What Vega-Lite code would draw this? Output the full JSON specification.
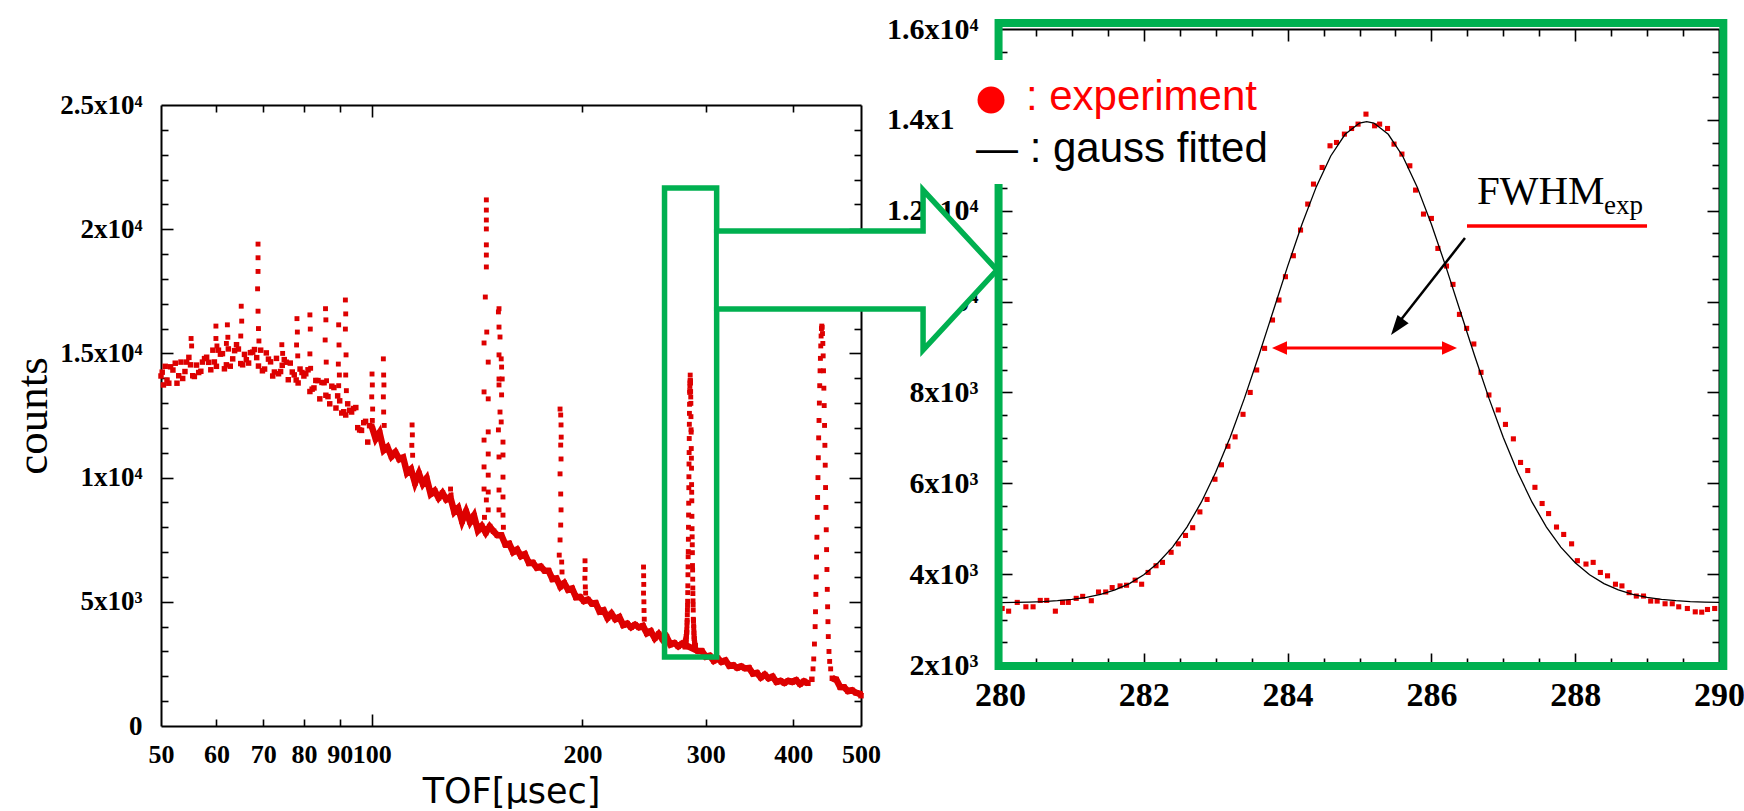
{
"$schema": "https://vega.github.io/schema/vega-lite/v6.json",
"padding": {"left": 10, "top": 14, "right": 0, "bottom": 0},
"config": {
  "view": {"stroke": null},
  "axis": {"grid": false, "domainColor": "black", "tickColor": "black", "labelColor": "black", "titleColor": "black", "labelFont": "Liberation Serif", "labelFontWeight": "bold", "tickWidth": 1.6, "domainWidth": 2}
},
"datasets": {
  "base": [
    {"t":50,"c":14090},{"t":50.7,"c":14480},{"t":51.3,"c":13800},{"t":52,"c":14330},{"t":52.7,"c":13800},{"t":53.4,"c":14650},{"t":54.1,"c":14270},{"t":54.8,"c":14840},{"t":55.5,"c":14100},{"t":56.2,"c":14530},{"t":57,"c":14280},{"t":57.7,"c":14790},{"t":58.5,"c":14640},{"t":59.3,"c":15130},{"t":60,"c":14480},{"t":60.8,"c":14970},{"t":61.6,"c":14380},{"t":62.4,"c":15180},{"t":63.3,"c":14780},{"t":64.1,"c":15350},{"t":65,"c":14590},{"t":65.8,"c":14960},{"t":66.7,"c":14610},{"t":67.6,"c":15050},{"t":68.5,"c":14830},{"t":69.4,"c":15130},{"t":70.3,"c":14370},{"t":71.2,"c":14770},{"t":72.2,"c":14090},{"t":73.1,"c":14800},{"t":74.1,"c":14270},{"t":75,"c":14750},{"t":76,"c":13940},{"t":77,"c":14250},{"t":78,"c":13930},{"t":79,"c":14370},{"t":80,"c":14090},{"t":81.1,"c":14340},{"t":82.2,"c":13560},{"t":83.2,"c":13910},{"t":84.3,"c":13170},{"t":85.5,"c":13820},{"t":86.6,"c":13260},{"t":87.7,"c":13680},{"t":88.9,"c":12800},{"t":90,"c":13090},{"t":91.2,"c":12650},{"t":92.4,"c":12970},{"t":93.6,"c":12640},{"t":94.9,"c":12820},{"t":96.1,"c":11920},{"t":97.4,"c":12210},{"t":98.7,"c":11430},{"t":100,"c":12070},
    {"t":50.4,"c":13730},{"t":51.6,"c":14460},{"t":53,"c":14100},{"t":54.4,"c":14650},{"t":55.8,"c":14070},{"t":57.3,"c":14650},{"t":58.9,"c":14340},{"t":60.4,"c":15130},{"t":62,"c":14540},{"t":63.7,"c":15110},{"t":65.4,"c":14540},{"t":67.1,"c":15030},{"t":68.9,"c":14490},{"t":70.7,"c":15020},{"t":72.6,"c":14250},{"t":74.5,"c":14520},{"t":76.5,"c":14610},{"t":78.5,"c":13810},{"t":80.5,"c":14180},{"t":82.7,"c":13610},{"t":84.9,"c":13830},{"t":87.1,"c":12970},{"t":89.4,"c":13290},{"t":91.8,"c":12520},{"t":94.2,"c":12780},{"t":96.7,"c":11900},{"t":99.3,"c":12090},
    {"t":50.2,"c":14245},{"t":51,"c":13925},{"t":52.4,"c":14605},{"t":53.7,"c":13990},{"t":55.1,"c":14540},{"t":56.6,"c":14230},{"t":58.1,"c":14845},{"t":59.6,"c":14655},{"t":61.2,"c":14990},{"t":62.8,"c":14485},{"t":64.5,"c":15175},{"t":66.2,"c":14745},{"t":68,"c":15155},{"t":69.8,"c":14300},{"t":71.7,"c":14660},{"t":73.6,"c":14180},{"t":75.5,"c":14645},{"t":77.5,"c":14135},{"t":79.5,"c":14230},{"t":81.6,"c":13465},{"t":83.8,"c":13905},{"t":86,"c":13315},{"t":88.3,"c":13625},{"t":90.6,"c":12600},{"t":93,"c":12710},{"t":95.5,"c":12010},{"t":98,"c":12265},
    {"t":101.3,"c":11560},{"t":102.6,"c":11810},{"t":104,"c":11100},{"t":105.3,"c":11230},{"t":106.7,"c":10850},{"t":108.1,"c":11020},{"t":109.5,"c":10740},{"t":110.9,"c":10810},{"t":112.3,"c":10190},{"t":113.8,"c":10340},{"t":115.3,"c":9780},{"t":116.8,"c":10170},{"t":118.3,"c":9750},{"t":119.8,"c":9970},{"t":121.4,"c":9340},{"t":123,"c":9470},{"t":124.6,"c":9180},{"t":126.2,"c":9380},{"t":127.8,"c":9120},{"t":129.5,"c":9220},{"t":131.2,"c":8620},{"t":132.9,"c":8780},{"t":134.6,"c":8240},{"t":136.4,"c":8640},{"t":138.2,"c":8210},{"t":140,"c":8470},{"t":141.8,"c":7870},{"t":143.6,"c":8050},{"t":145.5,"c":7780},{"t":147.4,"c":8030},{"t":149.3,"c":7840},
    {"t":151.2,"c":7680},{"t":153.2,"c":7680},{"t":155.2,"c":7310},{"t":157.2,"c":7340},{"t":159.2,"c":7000},{"t":161.3,"c":7105},{"t":163.4,"c":6835},{"t":165.5,"c":6915},{"t":167.7,"c":6560},{"t":169.9,"c":6575},{"t":172.1,"c":6375},{"t":174.3,"c":6420},{"t":176.6,"c":6250},{"t":178.9,"c":6250},{"t":181.2,"c":5910},{"t":183.6,"c":5940},{"t":186,"c":5610},{"t":188.4,"c":5755},{"t":190.8,"c":5485},{"t":193.3,"c":5535},{"t":195.8,"c":5180},{"t":198.4,"c":5195},{"t":201,"c":5025},{"t":203.6,"c":5090},{"t":206.2,"c":4930},{"t":208.9,"c":4950},{"t":211.6,"c":4610},{"t":214.4,"c":4660},{"t":217.2,"c":4350},{"t":220,"c":4525},{"t":222.9,"c":4295},{"t":225.8,"c":4385},{"t":228.7,"c":4060},{"t":231.7,"c":4125},{"t":234.7,"c":3975},{"t":237.8,"c":4080},{"t":240.9,"c":3970},{"t":244,"c":4030},{"t":247.2,"c":3730},{"t":250.4,"c":3820},{"t":253.7,"c":3530},{"t":257,"c":3705},{"t":260.3,"c":3485},{"t":263.7,"c":3595},{"t":267.1,"c":3280},{"t":270.6,"c":3345},{"t":274.1,"c":3205},{"t":277.7,"c":3320},
    {"t":292.4,"c":3020},{"t":296.2,"c":3020},{"t":300.1,"c":2790},{"t":304,"c":2830},{"t":308,"c":2620},{"t":312,"c":2730},{"t":316,"c":2580},{"t":320.1,"c":2640},{"t":324.3,"c":2420},{"t":328.5,"c":2450},{"t":332.8,"c":2340},{"t":337.1,"c":2400},{"t":341.5,"c":2320},{"t":345.9,"c":2340},{"t":350.4,"c":2110},{"t":355,"c":2140},{"t":359.6,"c":1950},{"t":364.3,"c":2070},{"t":369,"c":1920},{"t":373.8,"c":1990},{"t":378.7,"c":1770},{"t":383.6,"c":1820},{"t":388.6,"c":1730},{"t":393.7,"c":1820},{"t":398.8,"c":1770},{"t":404,"c":1845},{"t":409.2,"c":1690},{"t":414.5,"c":1800},{"t":419.9,"c":1720},{"t":425.4,"c":1880},
    {"t":455,"c":1920},{"t":460.9,"c":1870},{"t":466.9,"c":1570},{"t":473,"c":1560},{"t":479.1,"c":1400},{"t":485.4,"c":1440},{"t":491.7,"c":1340},{"t":498.1,"c":1300},{"t":500,"c":1220}
  ],
  "peaks": [
    {"t":55.2,"c":15600},{"t":55.3,"c":15300},
    {"t":59.9,"c":16100},{"t":59.9,"c":15600},{"t":60.1,"c":15300},
    {"t":62.2,"c":16150},{"t":62.3,"c":15650},{"t":62,"c":15400},
    {"t":65.1,"c":16900},{"t":65.2,"c":16300},{"t":65,"c":15700},
    {"t":68.8,"c":19400},{"t":68.8,"c":18850},{"t":68.8,"c":18300},{"t":68.7,"c":17600},{"t":68.8,"c":16700},{"t":68.9,"c":16000},{"t":69,"c":15500},
    {"t":74.4,"c":15350},{"t":74.6,"c":15000},
    {"t":78.2,"c":16400},{"t":78.3,"c":15860},{"t":78.1,"c":15340},{"t":78.4,"c":14900},
    {"t":81.6,"c":16550},{"t":81.7,"c":15980},{"t":81.6,"c":14980},{"t":81.8,"c":14400},
    {"t":85.9,"c":16800},{"t":86,"c":16350},{"t":85.8,"c":15540},{"t":86.1,"c":14650},{"t":86.2,"c":13900},
    {"t":89.7,"c":16150},{"t":89.8,"c":15340},{"t":89.6,"c":14570},{"t":89.9,"c":14130},{"t":89.7,"c":13700},
    {"t":91.7,"c":17150},{"t":91.8,"c":16590},{"t":91.7,"c":15980},{"t":91.9,"c":14940},{"t":91.8,"c":14130},{"t":92,"c":13500},
    {"t":100.1,"c":14170},{"t":100.2,"c":13730},{"t":100,"c":13250},{"t":100.3,"c":12760},{"t":100.2,"c":12300},
    {"t":103.9,"c":14780},{"t":104,"c":14130},{"t":104.1,"c":13730},{"t":103.9,"c":13250},{"t":104,"c":12640},{"t":104.2,"c":12100},
    {"t":114.2,"c":12120},{"t":114.3,"c":11720},{"t":114.1,"c":11300},{"t":114.4,"c":10900},
    {"t":129.6,"c":9540},{"t":129.8,"c":9300},
    {"t":145.8,"c":21180},{"t":145.8,"c":20770},{"t":145.8,"c":20370},{"t":145.8,"c":20010},{"t":145.8,"c":19370},{"t":145.8,"c":18960},{"t":145.8,"c":18480},{"t":145.3,"c":17270},{"t":146,"c":15860},{"t":144.7,"c":15420},{"t":146.7,"c":14650},{"t":144.7,"c":13450},{"t":146.7,"c":13170},{"t":146.7,"c":11840},{"t":144.7,"c":11510},{"t":146.7,"c":10950},{"t":144.7,"c":10430},{"t":146.7,"c":10100},{"t":144.7,"c":9540},{"t":146.7,"c":9420},{"t":145.8,"c":9100},{"t":146.7,"c":8700},{"t":144.9,"c":8400},
    {"t":152,"c":16800},{"t":151.7,"c":16670},{"t":152,"c":16060},{"t":152.5,"c":15660},{"t":152,"c":14940},{"t":153.1,"c":14780},{"t":153.3,"c":14450},{"t":152,"c":13970},{"t":153.6,"c":13970},{"t":152,"c":13730},{"t":153.3,"c":13330},{"t":152.5,"c":12640},{"t":153.1,"c":12240},{"t":151.7,"c":11920},{"t":154,"c":11430},{"t":152,"c":10830},{"t":154,"c":10910},{"t":154,"c":10020},{"t":152,"c":9500},{"t":154,"c":9220},{"t":152,"c":8700},{"t":154,"c":8490},{"t":154.2,"c":8000},
    {"t":185.8,"c":12760},{"t":186.2,"c":12520},{"t":186.4,"c":12120},{"t":186.5,"c":11630},{"t":186.2,"c":11310},{"t":186.4,"c":10750},{"t":185.8,"c":10150},{"t":186.2,"c":9340},{"t":186.4,"c":8700},{"t":186.2,"c":8090},{"t":185.8,"c":7490},{"t":185.3,"c":6880},{"t":186.8,"c":6600},{"t":187,"c":6200},
    {"t":201.7,"c":6650},{"t":201.8,"c":6300},{"t":201.6,"c":5950},{"t":201.9,"c":5600},{"t":202.1,"c":5350},
    {"t":244.5,"c":6400},{"t":244.6,"c":6050},{"t":244.7,"c":5700},{"t":244.5,"c":5350},{"t":244.8,"c":5000},{"t":244.9,"c":4650},{"t":245.1,"c":4300},
    {"t":427,"c":2300},{"t":428,"c":2700},{"t":429,"c":3300},{"t":430,"c":4000},{"t":430.5,"c":4600},{"t":431,"c":5300},{"t":431.5,"c":6000},{"t":432,"c":6800},{"t":432.5,"c":7600},{"t":433,"c":8400},{"t":433.5,"c":9200},{"t":434,"c":10000},{"t":434.5,"c":10800},{"t":435,"c":11600},{"t":435.5,"c":12300},{"t":436,"c":13000},{"t":436.5,"c":13700},{"t":437,"c":14300},{"t":437.5,"c":14800},{"t":438,"c":15300},{"t":438.5,"c":15700},{"t":439,"c":16000},{"t":439.5,"c":16100},{"t":440,"c":16050},{"t":440.5,"c":15800},{"t":441,"c":15400},{"t":441.5,"c":14900},{"t":442,"c":14300},{"t":442.5,"c":13600},{"t":443,"c":12900},{"t":443.5,"c":12100},{"t":444,"c":11300},{"t":444.5,"c":10500},{"t":445,"c":9600},{"t":445.5,"c":8800},{"t":446,"c":7900},{"t":446.5,"c":7100},{"t":447,"c":6300},{"t":447.5,"c":5500},{"t":448,"c":4800},{"t":448.5,"c":4200},{"t":449,"c":3600},{"t":450,"c":3000},{"t":451,"c":2600},{"t":452.5,"c":2300}
  ],
  "exp": [
    {"t":280.03,"c":3244},{"t":280.12,"c":3185},{"t":280.24,"c":3378},{"t":280.36,"c":3281},{"t":280.46,"c":3281},{"t":280.56,"c":3422},{"t":280.65,"c":3422},{"t":280.77,"c":3185},{"t":280.87,"c":3378},{"t":280.95,"c":3378},{"t":281.06,"c":3467},{"t":281.15,"c":3511},{"t":281.27,"c":3415},{"t":281.37,"c":3607},{"t":281.47,"c":3607},{"t":281.56,"c":3704},{"t":281.67,"c":3741},{"t":281.76,"c":3756},{"t":281.88,"c":3867},{"t":281.97,"c":3778},{"t":282.06,"c":4037},{"t":282.17,"c":4185},{"t":282.26,"c":4259},{"t":282.38,"c":4481},{"t":282.48,"c":4667},{"t":282.58,"c":4852},{"t":282.68,"c":5022},{"t":282.78,"c":5370},{"t":282.88,"c":5644},{"t":282.99,"c":6089},{"t":283.08,"c":6407},{"t":283.17,"c":6815},{"t":283.27,"c":7022},{"t":283.38,"c":7518},{"t":283.48,"c":8000},{"t":283.57,"c":8494},{"t":283.68,"c":8970},{"t":283.79,"c":9594},{"t":283.88,"c":10034},{"t":283.97,"c":10547},{"t":284.08,"c":11009},{"t":284.18,"c":11574},{"t":284.28,"c":12146},{"t":284.36,"c":12586},{"t":284.48,"c":12952},{"t":284.59,"c":13429},{"t":284.68,"c":13502},{"t":284.79,"c":13686},{"t":284.89,"c":13810},{"t":284.98,"c":13906},{"t":285.09,"c":14126},{"t":285.21,"c":13869},{"t":285.28,"c":13906},{"t":285.39,"c":13810},{"t":285.48,"c":13466},{"t":285.59,"c":13246},{"t":285.7,"c":12989},{"t":285.78,"c":12454},{"t":285.89,"c":11926},{"t":286,"c":11830},{"t":286.09,"c":11170},{"t":286.21,"c":10782},{"t":286.3,"c":10378},{"t":286.39,"c":9718},{"t":286.49,"c":9410},{"t":286.59,"c":9066},{"t":286.69,"c":8442},{"t":286.8,"c":7944},{"t":286.93,"c":7615},{"t":287.03,"c":7296},{"t":287.14,"c":6978},{"t":287.24,"c":6459},{"t":287.34,"c":6281},{"t":287.44,"c":5911},{"t":287.54,"c":5555},{"t":287.63,"c":5333},{"t":287.74,"c":5037},{"t":287.84,"c":4874},{"t":287.95,"c":4667},{"t":288.03,"c":4296},{"t":288.15,"c":4222},{"t":288.25,"c":4259},{"t":288.35,"c":4037},{"t":288.45,"c":3963},{"t":288.56,"c":3778},{"t":288.65,"c":3741},{"t":288.75,"c":3593},{"t":288.85,"c":3518},{"t":288.95,"c":3518},{"t":289.05,"c":3407},{"t":289.14,"c":3407},{"t":289.25,"c":3348},{"t":289.35,"c":3348},{"t":289.44,"c":3281},{"t":289.56,"c":3244},{"t":289.67,"c":3170},{"t":289.76,"c":3163},{"t":289.84,"c":3222},{"t":289.94,"c":3244}
  ],
  "fit": [
    {"t":280,"c":3375},{"t":280.2,"c":3379},{"t":280.4,"c":3385},{"t":280.6,"c":3396},{"t":280.8,"c":3415},{"t":281,"c":3443},{"t":281.2,"c":3488},{"t":281.4,"c":3554},{"t":281.6,"c":3652},{"t":281.8,"c":3792},{"t":282,"c":3987},{"t":282.2,"c":4250},{"t":282.4,"c":4595},{"t":282.6,"c":5037},{"t":282.8,"c":5584},{"t":283,"c":6242},{"t":283.2,"c":7010},{"t":283.4,"c":7874},{"t":283.6,"c":8812},{"t":283.8,"c":9793},{"t":284,"c":10774},{"t":284.2,"c":11703},{"t":284.4,"c":12530},{"t":284.6,"c":13205},{"t":284.8,"c":13682},{"t":285,"c":13929},{"t":285.1,"c":13960},{"t":285.2,"c":13929},{"t":285.4,"c":13682},{"t":285.6,"c":13205},{"t":285.8,"c":12530},{"t":286,"c":11703},{"t":286.2,"c":10774},{"t":286.4,"c":9793},{"t":286.6,"c":8812},{"t":286.8,"c":7874},{"t":287,"c":7010},{"t":287.2,"c":6242},{"t":287.4,"c":5584},{"t":287.6,"c":5037},{"t":287.8,"c":4595},{"t":288,"c":4250},{"t":288.2,"c":3987},{"t":288.4,"c":3792},{"t":288.6,"c":3652},{"t":288.8,"c":3554},{"t":289,"c":3488},{"t":289.2,"c":3443},{"t":289.4,"c":3415},{"t":289.6,"c":3396},{"t":289.8,"c":3385},{"t":290,"c":3379}
  ],
  "arrow": [
    {"o":1,"x":276.06,"y":11552},{"o":2,"x":278.93,"y":11552},{"o":3,"x":278.93,"y":12455},{"o":4,"x":279.958,"y":10694},{"o":5,"x":278.93,"y":8933},{"o":6,"x":278.93,"y":9836},{"o":7,"x":276.06,"y":9836}
  ],
  "head": [
    {"x":278.93,"y":12455,"y2":8933},{"x":279.958,"y":10694,"y2":10694}
  ],
  "axL": [{"t":100,"c":10000}],
  "axR": [{"t":285,"c":9000}]
},
"hconcat": [
  {
    "vconcat": [
      {"width": 700, "height": 76, "data": {"values": [{}]}, "mark": {"type": "point", "opacity": 0}},
      {
        "width": 700, "height": 621,
        "resolve": {"axis": {"x": "independent", "y": "independent"}},
        "layer": [
          {
            "data": {"name": "base"},
            "transform": [{"filter": "datum.t >= 100 && datum.t < 422"}],
            "mark": {"type": "line", "color": "#DD0000", "strokeWidth": 6.5},
            "encoding": {
              "x": {"field": "t", "type": "quantitative", "scale": {"type": "log", "domain": [50, 500], "nice": false},
                    "axis": {"orient": "bottom", "values": [50,60,70,80,90,100,200,300,400,500], "format": "d", "ticks": false, "labelPadding": 15, "labelFontSize": 26, "labelOverlap": false, "labelFlush": false, "title": "TOF[μsec]", "titleFont": "DejaVu Sans", "titleFontSize": 35, "titleFontWeight": "normal", "titlePadding": 7}},
              "y": {"field": "c", "type": "quantitative", "scale": {"domain": [0, 25000], "nice": false, "zero": false},
                    "axis": {"orient": "left", "values": [0,5000,10000,15000,20000,25000], "ticks": false, "labelPadding": 19, "labelFontSize": 27, "labelExpr": "datum.value == 0 ? '0' : datum.value < 10000 ? (datum.value / 1000) + 'x10³' : (datum.value / 10000) + 'x10⁴'", "title": "counts", "titleFont": "Liberation Serif", "titleFontSize": 45, "titleFontWeight": "normal", "titlePadding": 4}}
            }
          },
          {
            "data": {"name": "base"},
            "transform": [{"filter": "datum.t > 454"}],
            "mark": {"type": "line", "color": "#DD0000", "strokeWidth": 6.5},
            "encoding": {
              "x": {"field": "t", "type": "quantitative", "scale": {"type": "log", "domain": [50, 500], "nice": false}, "axis": null},
              "y": {"field": "c", "type": "quantitative", "scale": {"domain": [0, 25000], "nice": false, "zero": false}, "axis": null}
            }
          },
          {
            "data": {"name": "base"},
            "mark": {"type": "square", "size": 30, "color": "#DD0000", "opacity": 1},
            "encoding": {
              "x": {"field": "t", "type": "quantitative", "scale": {"type": "log", "domain": [50, 500], "nice": false}, "axis": null},
              "y": {"field": "c", "type": "quantitative", "scale": {"domain": [0, 25000], "nice": false, "zero": false}, "axis": null}
            }
          },
          {
            "data": {"name": "peaks"},
            "mark": {"type": "square", "size": 24, "color": "#DD0000", "opacity": 1},
            "encoding": {
              "x": {"field": "t", "type": "quantitative", "scale": {"type": "log", "domain": [50, 500], "nice": false}, "axis": null},
              "y": {"field": "c", "type": "quantitative", "scale": {"domain": [0, 25000], "nice": false, "zero": false}, "axis": null}
            }
          },
          {
            "data": {"name": "exp"},
            "mark": {"type": "square", "size": 24, "color": "#DD0000", "opacity": 1},
            "encoding": {
              "x": {"field": "t", "type": "quantitative", "scale": {"type": "log", "domain": [50, 500], "nice": false}, "axis": null},
              "y": {"field": "c", "type": "quantitative", "scale": {"domain": [0, 25000], "nice": false, "zero": false}, "axis": null}
            }
          },
          {
            "data": {"name": "axL"},
            "mark": {"type": "point", "opacity": 0},
            "encoding": {
              "x": {"field": "t", "type": "quantitative", "scale": {"type": "log", "domain": [50, 500], "nice": false},
                    "axis": {"orient": "bottom", "values": [60,70,80,90,200,300,400], "labels": false, "domain": false, "tickSize": -7, "title": null}},
              "y": {"field": "c", "type": "quantitative", "scale": {"domain": [0, 25000], "nice": false, "zero": false},
                    "axis": {"orient": "left", "values": [5000,10000,15000,20000], "labels": false, "domain": false, "tickSize": -12, "title": null}}
            }
          },
          {
            "data": {"name": "axL"},
            "mark": {"type": "point", "opacity": 0},
            "encoding": {
              "x": {"field": "t", "type": "quantitative", "scale": {"type": "log", "domain": [50, 500], "nice": false},
                    "axis": {"orient": "top", "values": [60,70,80,90,200,300,400], "labels": false, "domain": true, "tickSize": -7, "title": null}},
              "y": {"field": "c", "type": "quantitative", "scale": {"domain": [0, 25000], "nice": false, "zero": false},
                    "axis": {"orient": "right", "values": [5000,10000,15000,20000], "labels": false, "domain": true, "tickSize": -12, "title": null}}
            }
          },
          {
            "data": {"name": "axL"},
            "mark": {"type": "point", "opacity": 0},
            "encoding": {
              "x": {"field": "t", "type": "quantitative", "scale": {"type": "log", "domain": [50, 500], "nice": false},
                    "axis": {"orient": "top", "values": [100], "labels": false, "domain": false, "tickSize": -12, "title": null}},
              "y": {"field": "c", "type": "quantitative", "scale": {"domain": [0, 25000], "nice": false, "zero": false},
                    "axis": {"orient": "left", "values": [1000,2000,3000,4000,6000,7000,8000,9000,11000,12000,13000,14000,16000,17000,18000,19000,21000,22000,23000,24000], "labels": false, "domain": false, "tickSize": -7, "title": null}}
            }
          },
          {
            "data": {"name": "axL"},
            "mark": {"type": "point", "opacity": 0},
            "encoding": {
              "x": {"field": "t", "type": "quantitative", "scale": {"type": "log", "domain": [50, 500], "nice": false},
                    "axis": {"orient": "bottom", "values": [100], "labels": false, "domain": false, "tickSize": -12, "title": null}},
              "y": {"field": "c", "type": "quantitative", "scale": {"domain": [0, 25000], "nice": false, "zero": false},
                    "axis": {"orient": "right", "values": [1000,2000,3000,4000,6000,7000,8000,9000,11000,12000,13000,14000,16000,17000,18000,19000,21000,22000,23000,24000], "labels": false, "domain": false, "tickSize": -7, "title": null}}
            }
          },
          {
            "data": {"values": [{}]},
            "mark": {"type": "rect", "filled": false, "color": "#00B050", "strokeWidth": 5.5},
            "encoding": {
              "x": {"datum": 262, "type": "quantitative", "scale": {"type": "log", "domain": [50, 500], "nice": false}, "axis": null},
              "x2": {"datum": 311},
              "y": {"datum": 21660, "type": "quantitative", "scale": {"domain": [0, 25000], "nice": false, "zero": false}, "axis": null},
              "y2": {"datum": 2778}
            }
          }
        ]
      }
    ],
    "spacing": 0,
    "bounds": "flush"
  },
  {
    "width": 719, "height": 636,
    "resolve": {"axis": {"x": "independent", "y": "independent"}},
    "layer": [
      {
        "data": {"name": "exp"},
        "mark": {"type": "square", "size": 26, "color": "#E60000", "opacity": 1},
        "encoding": {
          "x": {"field": "t", "type": "quantitative", "scale": {"domain": [280, 290], "nice": false, "zero": false},
                "axis": {"orient": "bottom", "values": [280,282,284,286,288,290], "ticks": false, "labelPadding": 13, "labelFontSize": 34, "labelFlush": false, "labelOverlap": false, "title": null}},
          "y": {"field": "c", "type": "quantitative", "scale": {"domain": [2000, 16000], "nice": false, "zero": false},
                "axis": {"orient": "left", "values": [2000,4000,6000,8000,10000,12000,14000,16000], "ticks": false, "labelPadding": 22, "labelFontSize": 30, "labelExpr": "datum.value == 0 ? '0' : datum.value < 10000 ? (datum.value / 1000) + 'x10³' : (datum.value / 10000) + 'x10⁴'", "title": null}}
        }
      },
      {
        "data": {"name": "fit"},
        "mark": {"type": "line", "color": "black", "strokeWidth": 1.3},
        "encoding": {
          "x": {"field": "t", "type": "quantitative", "scale": {"domain": [280, 290], "nice": false, "zero": false}, "axis": null},
          "y": {"field": "c", "type": "quantitative", "scale": {"domain": [2000, 16000], "nice": false, "zero": false}, "axis": null}
        }
      },
      {
        "data": {"name": "axR"},
        "mark": {"type": "point", "opacity": 0},
        "encoding": {
          "x": {"field": "t", "type": "quantitative", "scale": {"domain": [280, 290], "nice": false, "zero": false},
                "axis": {"orient": "bottom", "values": [282,284,286,288], "labels": false, "domain": false, "tickSize": -12, "title": null}},
          "y": {"field": "c", "type": "quantitative", "scale": {"domain": [2000, 16000], "nice": false, "zero": false},
                "axis": {"orient": "left", "values": [4000,6000,8000,10000,12000,14000], "labels": false, "domain": false, "tickSize": -12, "title": null}}
        }
      },
      {
        "data": {"name": "axR"},
        "mark": {"type": "point", "opacity": 0},
        "encoding": {
          "x": {"field": "t", "type": "quantitative", "scale": {"domain": [280, 290], "nice": false, "zero": false},
                "axis": {"orient": "top", "values": [282,284,286,288], "labels": false, "domain": true, "tickSize": -12, "title": null}},
          "y": {"field": "c", "type": "quantitative", "scale": {"domain": [2000, 16000], "nice": false, "zero": false},
                "axis": {"orient": "right", "values": [4000,6000,8000,10000,12000,14000], "labels": false, "domain": true, "tickSize": -12, "title": null}}
        }
      },
      {
        "data": {"name": "axR"},
        "mark": {"type": "point", "opacity": 0},
        "encoding": {
          "x": {"field": "t", "type": "quantitative", "scale": {"domain": [280, 290], "nice": false, "zero": false},
                "axis": {"orient": "top", "values": [280.5,281,281.5,282.5,283,283.5,284.5,285,285.5,286.5,287,287.5,288.5,289,289.5], "labels": false, "domain": false, "tickSize": -7, "title": null}},
          "y": {"field": "c", "type": "quantitative", "scale": {"domain": [2000, 16000], "nice": false, "zero": false},
                "axis": {"orient": "left", "values": [2500,3000,3500,4500,5000,5500,6500,7000,7500,8500,9000,9500,10500,11000,11500,12500,13000,13500,14500,15000,15500], "labels": false, "domain": false, "tickSize": -7, "title": null}}
        }
      },
      {
        "data": {"name": "axR"},
        "mark": {"type": "point", "opacity": 0},
        "encoding": {
          "x": {"field": "t", "type": "quantitative", "scale": {"domain": [280, 290], "nice": false, "zero": false},
                "axis": {"orient": "bottom", "values": [280.5,281,281.5,282.5,283,283.5,284.5,285,285.5,286.5,287,287.5,288.5,289,289.5], "labels": false, "domain": false, "tickSize": -7, "title": null}},
          "y": {"field": "c", "type": "quantitative", "scale": {"domain": [2000, 16000], "nice": false, "zero": false},
                "axis": {"orient": "right", "values": [2500,3000,3500,4500,5000,5500,6500,7000,7500,8500,9000,9500,10500,11000,11500,12500,13000,13500,14500,15000,15500], "labels": false, "domain": false, "tickSize": -7, "title": null}}
        }
      },
      {
        "data": {"values": [{}]},
        "mark": {"type": "rect", "filled": false, "color": "#00B050", "strokeWidth": 8},
        "encoding": {
          "x": {"datum": 279.98, "type": "quantitative", "scale": {"domain": [280, 290], "nice": false, "zero": false}, "axis": null},
          "x2": {"datum": 290.06},
          "y": {"datum": 1980, "type": "quantitative", "scale": {"domain": [2000, 16000], "nice": false, "zero": false}, "axis": null},
          "y2": {"datum": 16130}
        }
      },
      {
        "data": {"values": [{}]},
        "mark": {"type": "rect", "color": "white", "opacity": 1},
        "encoding": {
          "x": {"datum": 279.36, "type": "quantitative", "scale": {"domain": [280, 290], "nice": false, "zero": false}, "axis": null},
          "x2": {"datum": 284.02},
          "y": {"datum": 12587, "type": "quantitative", "scale": {"domain": [2000, 16000], "nice": false, "zero": false}, "axis": null},
          "y2": {"datum": 15316}
        }
      },
      {
        "data": {"values": [{}]},
        "mark": {"type": "rect", "color": "white", "opacity": 1},
        "encoding": {
          "x": {"datum": 276.09, "type": "quantitative", "scale": {"domain": [280, 290], "nice": false, "zero": false}, "axis": null},
          "x2": {"datum": 278.93},
          "y": {"datum": 9836, "type": "quantitative", "scale": {"domain": [2000, 16000], "nice": false, "zero": false}, "axis": null},
          "y2": {"datum": 11552}
        }
      },
      {
        "data": {"name": "head"},
        "mark": {"type": "area", "color": "white", "opacity": 1},
        "encoding": {
          "x": {"field": "x", "type": "quantitative", "scale": {"domain": [280, 290], "nice": false, "zero": false}, "axis": null},
          "y": {"field": "y", "type": "quantitative", "scale": {"domain": [2000, 16000], "nice": false, "zero": false}, "axis": null},
          "y2": {"field": "y2"}
        }
      },
      {
        "data": {"name": "arrow"},
        "mark": {"type": "line", "color": "#00B050", "strokeWidth": 5.5, "strokeJoin": "miter", "strokeCap": "square"},
        "encoding": {
          "x": {"field": "x", "type": "quantitative", "scale": {"domain": [280, 290], "nice": false, "zero": false}, "axis": null},
          "y": {"field": "y", "type": "quantitative", "scale": {"domain": [2000, 16000], "nice": false, "zero": false}, "axis": null},
          "order": {"field": "o", "type": "quantitative"}
        }
      },
      {
        "data": {"values": [{}]},
        "mark": {"type": "point", "shape": "circle", "filled": true, "color": "#FF0000", "size": 729, "opacity": 1},
        "encoding": {
          "x": {"datum": 279.875, "type": "quantitative", "scale": {"domain": [280, 290], "nice": false, "zero": false}, "axis": null},
          "y": {"datum": 14436, "type": "quantitative", "scale": {"domain": [2000, 16000], "nice": false, "zero": false}, "axis": null}
        }
      },
      {
        "data": {"values": [{}]},
        "mark": {"type": "text", "text": ": experiment", "align": "left", "baseline": "alphabetic", "font": "Liberation Sans", "fontSize": 42, "color": "#FF0000"},
        "encoding": {
          "x": {"datum": 280.36, "type": "quantitative", "scale": {"domain": [280, 290], "nice": false, "zero": false}, "axis": null},
          "y": {"datum": 14216, "type": "quantitative", "scale": {"domain": [2000, 16000], "nice": false, "zero": false}, "axis": null}
        }
      },
      {
        "data": {"values": [{}]},
        "mark": {"type": "text", "text": "— : gauss fitted", "align": "left", "baseline": "alphabetic", "font": "Liberation Sans", "fontSize": 42, "color": "black"},
        "encoding": {
          "x": {"datum": 279.666, "type": "quantitative", "scale": {"domain": [280, 290], "nice": false, "zero": false}, "axis": null},
          "y": {"datum": 13071, "type": "quantitative", "scale": {"domain": [2000, 16000], "nice": false, "zero": false}, "axis": null}
        }
      },
      {
        "data": {"values": [{}]},
        "mark": {"type": "text", "text": "FWHM", "align": "left", "baseline": "alphabetic", "font": "Liberation Serif", "fontSize": 41, "color": "black"},
        "encoding": {
          "x": {"datum": 286.634, "type": "quantitative", "scale": {"domain": [280, 290], "nice": false, "zero": false}, "axis": null},
          "y": {"datum": 12147, "type": "quantitative", "scale": {"domain": [2000, 16000], "nice": false, "zero": false}, "axis": null}
        }
      },
      {
        "data": {"values": [{}]},
        "mark": {"type": "text", "text": "exp", "align": "left", "baseline": "alphabetic", "font": "Liberation Serif", "fontSize": 27, "color": "black"},
        "encoding": {
          "x": {"datum": 288.4, "type": "quantitative", "scale": {"domain": [280, 290], "nice": false, "zero": false}, "axis": null},
          "y": {"datum": 11927, "type": "quantitative", "scale": {"domain": [2000, 16000], "nice": false, "zero": false}, "axis": null}
        }
      },
      {
        "data": {"values": [{}]},
        "mark": {"type": "rule", "color": "#FF0000", "strokeWidth": 3.5},
        "encoding": {
          "x": {"datum": 286.495, "type": "quantitative", "scale": {"domain": [280, 290], "nice": false, "zero": false}, "axis": null},
          "x2": {"datum": 288.999},
          "y": {"datum": 11662, "type": "quantitative", "scale": {"domain": [2000, 16000], "nice": false, "zero": false}, "axis": null}
        }
      },
      {
        "data": {"values": [{}]},
        "mark": {"type": "rule", "color": "black", "strokeWidth": 2.5},
        "encoding": {
          "x": {"datum": 286.467, "type": "quantitative", "scale": {"domain": [280, 290], "nice": false, "zero": false}, "axis": null},
          "x2": {"datum": 285.508},
          "y": {"datum": 11398, "type": "quantitative", "scale": {"domain": [2000, 16000], "nice": false, "zero": false}, "axis": null},
          "y2": {"datum": 9461}
        }
      },
      {
        "data": {"values": [{}]},
        "mark": {"type": "point", "shape": "M0,0L-0.35,1L0.35,1Z", "filled": true, "color": "black", "size": 1600, "angle": 217.2, "opacity": 1},
        "encoding": {
          "x": {"datum": 285.438, "type": "quantitative", "scale": {"domain": [280, 290], "nice": false, "zero": false}, "axis": null},
          "y": {"datum": 9263, "type": "quantitative", "scale": {"domain": [2000, 16000], "nice": false, "zero": false}, "axis": null}
        }
      },
      {
        "data": {"values": [{}]},
        "mark": {"type": "rule", "color": "#FF0000", "strokeWidth": 3},
        "encoding": {
          "x": {"datum": 283.85, "type": "quantitative", "scale": {"domain": [280, 290], "nice": false, "zero": false}, "axis": null},
          "x2": {"datum": 286.29},
          "y": {"datum": 8977, "type": "quantitative", "scale": {"domain": [2000, 16000], "nice": false, "zero": false}, "axis": null}
        }
      },
      {
        "data": {"values": [{}]},
        "mark": {"type": "point", "shape": "M0,0L-0.45,1L0.45,1Z", "filled": true, "color": "#FF0000", "size": 900, "angle": 270, "opacity": 1},
        "encoding": {
          "x": {"datum": 283.783, "type": "quantitative", "scale": {"domain": [280, 290], "nice": false, "zero": false}, "axis": null},
          "y": {"datum": 8977, "type": "quantitative", "scale": {"domain": [2000, 16000], "nice": false, "zero": false}, "axis": null}
        }
      },
      {
        "data": {"values": [{}]},
        "mark": {"type": "point", "shape": "M0,0L-0.45,1L0.45,1Z", "filled": true, "color": "#FF0000", "size": 900, "angle": 90, "opacity": 1},
        "encoding": {
          "x": {"datum": 286.356, "type": "quantitative", "scale": {"domain": [280, 290], "nice": false, "zero": false}, "axis": null},
          "y": {"datum": 8977, "type": "quantitative", "scale": {"domain": [2000, 16000], "nice": false, "zero": false}, "axis": null}
        }
      }
    ]
  }
],
"spacing": 839,
"bounds": "flush"
}
